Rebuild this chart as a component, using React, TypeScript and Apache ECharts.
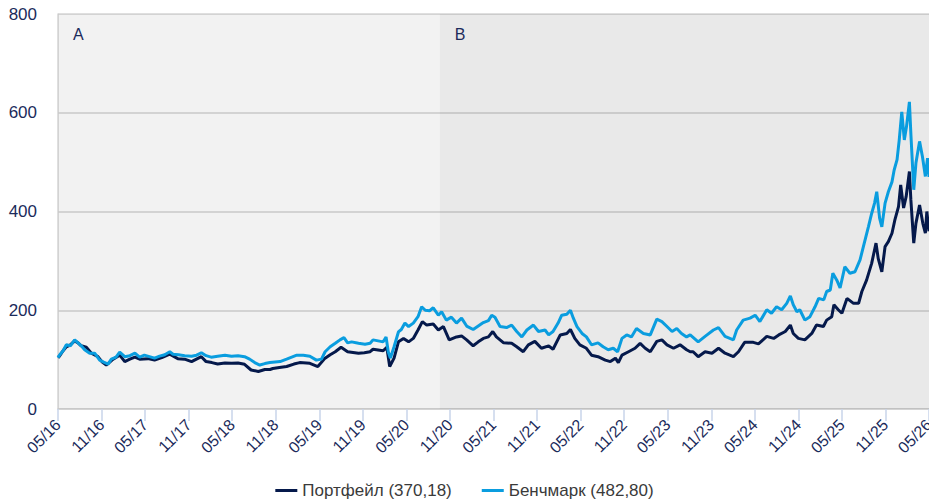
import React, { useEffect, useRef } from "react";
import * as echarts from "echarts";

// x values: months elapsed since 05/2016 (fractional)
const START_YEAR = 2016;
const START_MONTH = 5;
const TOTAL_MONTHS = 120;

const portfolioName = "Портфейл (370,18)";
const benchmarkName = "Бенчмарк (482,80)";

const regionNames = ["A", "B"];
const regionBounds = [0, 52.6, 120];

const portfolioMonths = [
  0, 0.2, 0.7, 1.15, 1.7, 2.3, 2.76, 3.2, 3.9, 4.6, 5.5, 6.1, 6.65, 7.6, 8.5, 9.2, 9.9, 10.6, 11.25, 12.4,
  13.3, 14.3, 15.4, 16.5, 17.45, 18.4, 19.75, 20.4, 21.2, 22.0, 23.0, 23.9, 24.8, 25.7, 26.6, 27.6, 28.5, 29.2, 29.6, 30.5,
  31.5, 32.5, 33.3, 34.7, 35.8, 36.8, 37.5, 38.2, 39.0, 39.9, 41.4, 42.2, 43.0, 43.4, 44.8, 45.3, 45.7, 46.3, 46.9, 47.6,
  48.3, 48.95, 49.6, 50.2, 50.8, 51.7, 52.4, 53.1, 53.9, 54.9, 55.6, 56.3, 57.2, 57.9, 58.6, 59.3, 59.9, 60.4, 61.4, 62.5,
  63.2, 64.1, 64.8, 65.7, 66.6, 67.6, 68.2, 69.2, 70.1, 70.6, 71.2, 71.9, 72.8, 73.5, 74.4, 75.4, 76.1, 76.8, 77.2, 77.7,
  78.6, 79.5, 80.2, 80.9, 81.6, 82.5, 83.2, 83.9, 84.8, 85.7, 86.6, 87.1, 87.5, 88.2, 89.15, 90.1, 91.0, 91.9, 93.05, 93.75,
  94.6, 95.8, 96.5, 97.65, 98.6, 99.3, 100.2, 100.9, 101.3, 102.0, 102.9, 103.85, 104.5, 105.45, 105.9, 106.6, 106.9, 107.5, 108.0, 108.7,
  109.6, 110.3, 110.75, 111.4, 112.1, 112.7, 113.0, 113.5, 113.95, 114.4, 114.9, 115.3, 115.8, 116.1, 116.5, 116.85, 117.3, 117.5, 117.9, 118.2,
  118.7, 119.15, 119.5, 119.7, 120,
];
const portfolioValues = [
  104, 107, 118, 126, 130, 138, 134, 128, 125, 113, 106, 95, 89, 101, 109, 96, 101, 105, 101, 102,
  99, 104, 111, 102, 101, 96, 106, 96, 94, 91, 93, 92.5, 93, 90.5, 79, 76, 80, 80, 82, 84,
  86, 91, 94, 92.5, 86, 103, 110, 116, 125, 116, 113, 114, 116, 121, 118, 125, 86, 103, 136, 143,
  136, 143, 160, 177, 170, 172, 160, 167, 140, 146, 148, 140, 128, 136, 143, 146, 157, 146, 134, 133,
  126, 116, 130, 137, 123, 128, 121, 150, 153, 161, 143, 130, 123, 109, 106, 99, 96, 103, 94, 109,
  116, 123, 133, 123, 116, 137, 140, 130, 123, 130, 120, 116, 116, 106, 116, 113, 123, 113, 106, 116,
  135, 135, 132, 147, 143, 150, 157, 170, 153, 143, 140, 153, 170, 167, 180, 187, 211, 201, 194, 224,
  214, 214, 238, 261, 295, 336, 305, 278, 329, 339, 356, 383, 410, 454, 407, 430, 481, 424, 336, 376,
  413, 376, 356, 400, 360,
];

const benchmarkMonths = [
  0, 0.25, 0.7, 1.15, 1.7, 2.3, 2.76, 3.2, 3.67, 4.36, 5.05, 5.74, 6.3, 6.9, 7.35, 8.0, 8.5, 9.2, 9.9, 10.6,
  11.25, 11.9, 12.6, 13.3, 14.0, 14.7, 15.4, 15.85, 16.6, 17.45, 18.4, 19.1, 19.75, 20.4, 21.1, 22.0, 23.0, 23.9, 24.8, 25.7,
  26.4, 27.1, 27.8, 28.5, 29.2, 30.6, 31.5, 32.2, 32.9, 33.8, 34.7, 35.6, 36.3, 36.8, 37.5, 38.2, 38.85, 39.4, 39.9, 40.45,
  41.4, 42.3, 43.0, 43.4, 44.1, 44.8, 45.2, 45.5, 45.8, 46.3, 46.9, 47.3, 47.8, 48.3, 48.95, 49.6, 50.1, 50.6, 51.2, 51.7,
  52.4, 52.85, 53.5, 54.2, 54.9, 55.6, 56.3, 57.2, 57.9, 58.6, 59.3, 59.75, 60.2, 60.9, 61.8, 62.5, 63.2, 63.9, 64.6, 65.5,
  66.2, 67.1, 67.6, 68.2, 68.9, 69.4, 70.1, 70.6, 71.0, 71.5, 72.2, 72.8, 73.5, 74.4, 75.1, 75.8, 76.5, 77.1, 77.7, 78.35,
  79.0, 79.7, 80.65, 81.6, 82.5, 83.2, 83.9, 84.6, 85.25, 85.9, 86.6, 87.1, 88.2, 89.15, 90.3, 91.0, 91.9, 93.05, 93.5, 94.4,
  95.35, 96.05, 96.7, 97.65, 98.3, 99.0, 99.7, 100.4, 100.9, 101.3, 101.8, 102.2, 102.9, 103.6, 104.3, 104.8, 105.5, 105.9, 106.4, 106.75,
  107.3, 107.75, 108.4, 109.1, 109.8, 110.5, 110.96, 111.65, 112.1, 112.5, 112.8, 113.2, 113.5, 113.95, 114.4, 114.9, 115.2, 115.6, 115.9, 116.25,
  116.6, 116.9, 117.3, 117.5, 117.9, 118.2, 118.7, 119.1, 119.5, 119.8, 120,
];
const benchmarkValues = [
  104, 110, 118, 130, 128, 140, 134, 128, 120, 113, 113, 99, 95, 91, 101, 105, 115, 106, 108, 113,
  105, 109, 106, 103, 107, 110, 116, 111, 110, 108, 107, 109, 114, 108, 105, 107, 109, 107, 108, 106,
  101, 94, 89, 92, 94, 96, 101, 105, 109, 109, 107, 99, 101, 116, 126, 133, 140, 144.5, 134, 136,
  133, 131, 133, 140, 138, 136, 146, 116, 103, 126, 156, 161, 174, 167, 174, 187, 207, 200, 199, 205,
  190, 197, 180, 186, 174, 184, 168, 161, 168, 175, 179, 190, 186, 167, 165, 170, 157, 146, 160, 170,
  157, 160, 150, 157, 174, 190, 192, 200, 184, 167, 153, 146, 130, 134, 126, 120, 123, 116, 143, 150,
  146, 163, 153, 150, 182, 177, 167, 157, 163, 153, 146, 150, 136, 147, 160, 165, 147, 140, 160, 180,
  184, 190, 177, 201, 194, 207, 201, 214, 229, 211, 197, 201, 180, 187, 207, 224, 221, 238, 241, 275,
  261, 245, 288, 275, 278, 302, 329, 369, 396, 417, 440, 386, 369, 417, 440, 460, 484, 505, 545, 602,
  545, 572, 622, 558, 444, 498, 542, 511, 471, 508, 470,
];

const portfolioColor = "#05194b";
const benchmarkColor = "#0a9ddf";
const labelColor = "#1b2b5b";
const fontFamily = "'Liberation Sans', Arial, sans-serif";

function monthLabel(v: number): string {
  const total = START_YEAR * 12 + (START_MONTH - 1) + Math.round(v);
  const y = Math.floor(total / 12) % 100;
  const m = (total % 12) + 1;
  return String(m).padStart(2, "0") + "/" + String(y).padStart(2, "0");
}

export default function App() {
  const ref = useRef<HTMLDivElement>(null);
  useEffect(() => {
    document.body.style.margin = "0";
    if (!ref.current) return;
    const chart = echarts.init(ref.current, undefined, { renderer: "svg" });
    const regionColors = ["rgba(0,0,0,0.05)", "rgba(0,0,0,0.088)"];
    const markData = regionNames.map((n, i) => [
      { xAxis: regionBounds[i], name: n, itemStyle: { color: regionColors[i] } },
      { xAxis: regionBounds[i + 1] },
    ]);
    chart.setOption({
      animation: false,
      textStyle: { fontFamily },
      grid: { left: 58, right: 0, top: 14, bottom: 90, containLabel: false, outerBoundsMode: "none" },
      legend: {
        top: 477,
        left: "center",
        icon: "rect",
        itemWidth: 22,
        itemHeight: 3,
        itemGap: 30,
        textStyle: { fontSize: 17, color: "#3a3a3a", fontFamily },
        data: [portfolioName, benchmarkName],
      },
      xAxis: {
        type: "value",
        min: 0,
        max: TOTAL_MONTHS,
        interval: 6,
        axisLine: { show: true, lineStyle: { color: "#d4d4d4", width: 2 } },
        axisTick: { show: true, length: 12, lineStyle: { color: "#c8d4ea", width: 1.5 } },
        splitLine: { show: false },
        axisLabel: {
          rotate: 45,
          margin: 13,
          color: labelColor,
          fontSize: 16,
          fontFamily,
          formatter: (v: number) => monthLabel(v),
        },
      },
      yAxis: {
        type: "value",
        min: 0,
        max: 800,
        interval: 200,
        axisLine: { show: true, lineStyle: { color: "#d4d4d4", width: 1.5 } },
        axisTick: { show: false },
        splitLine: { show: true, lineStyle: { color: "#d4d4d4", width: 1.5 } },
        axisLabel: { color: labelColor, fontSize: 17, margin: 21, fontFamily },
      },
      series: [
        {
          name: portfolioName,
          type: "line",
          symbol: "none",
          data: portfolioMonths.map((m, i) => [m, portfolioValues[i]]),
          lineStyle: { color: portfolioColor, width: 3 },
          itemStyle: { color: portfolioColor },
          z: 3,
          markArea: {
            silent: true,
            data: markData,
            label: {
              show: true,
              position: "insideTopLeft",
              offset: [10, 7],
              color: labelColor,
              fontSize: 16,
              fontFamily,
            },
          },
        },
        {
          name: benchmarkName,
          type: "line",
          symbol: "none",
          data: benchmarkMonths.map((m, i) => [m, benchmarkValues[i]]),
          lineStyle: { color: benchmarkColor, width: 3 },
          itemStyle: { color: benchmarkColor },
          z: 4,
        },
      ],
    });
    return () => chart.dispose();
  }, []);
  return <div ref={ref} style={{ width: 929, height: 499 }} />;
}
